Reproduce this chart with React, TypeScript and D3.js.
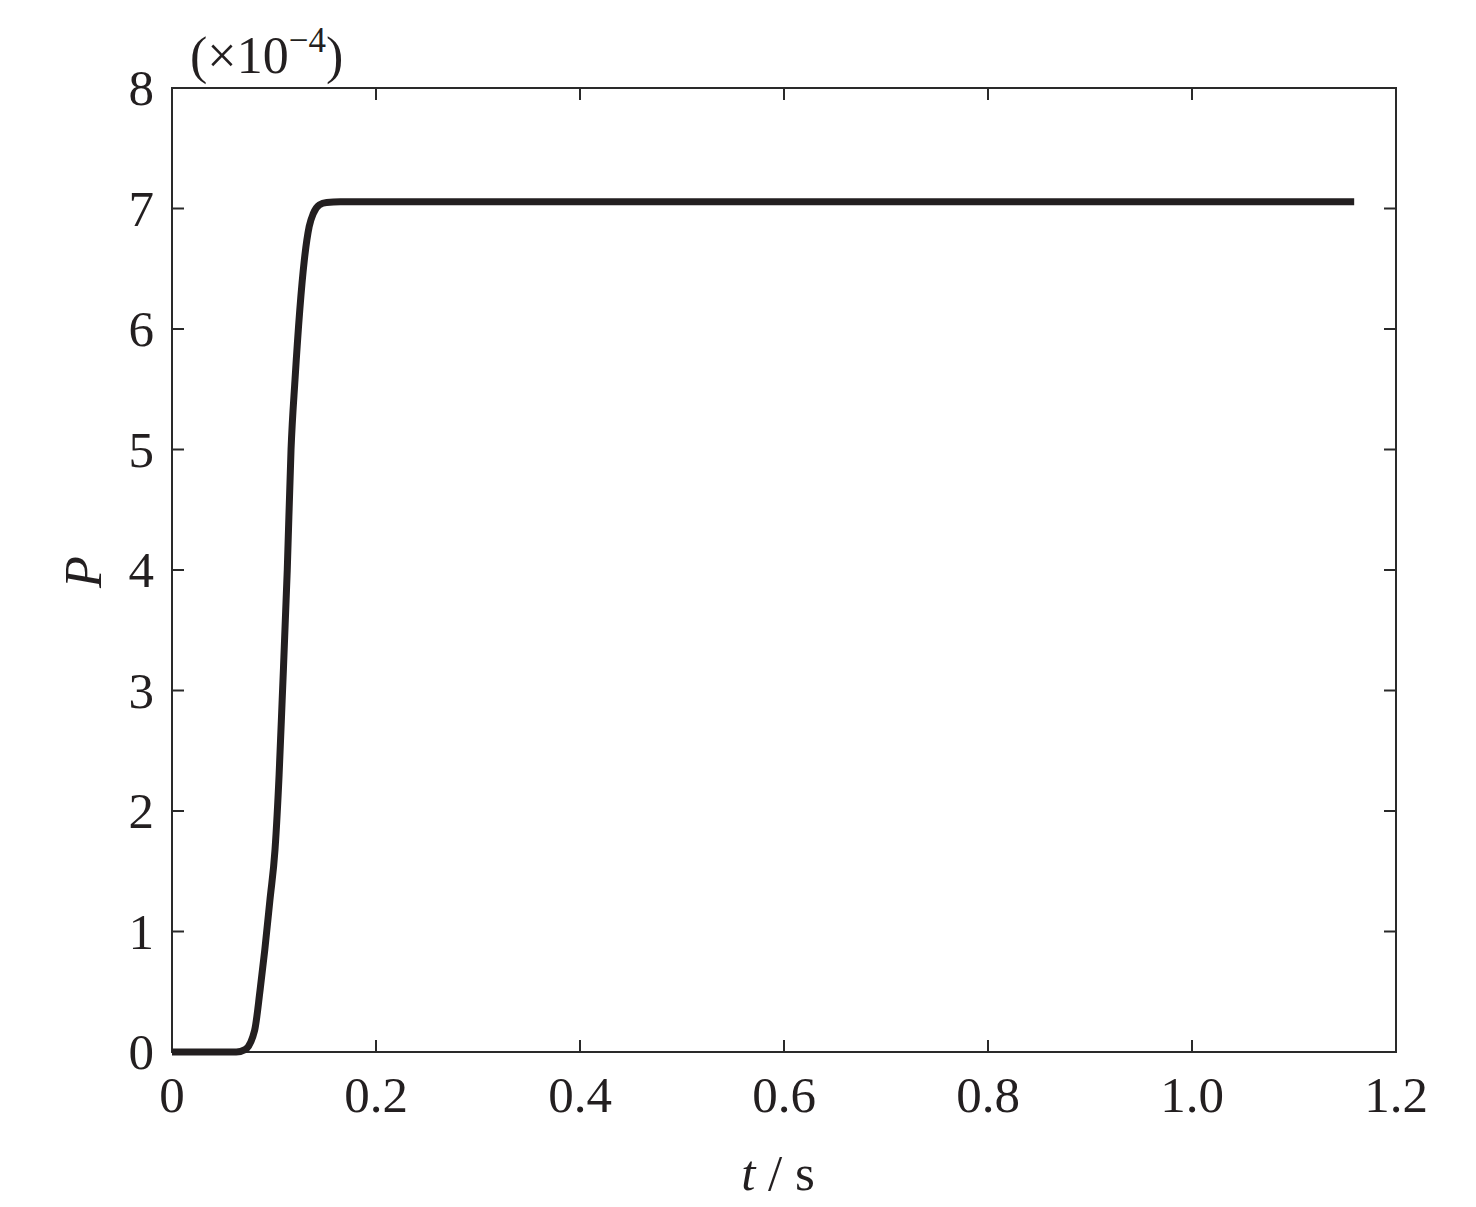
import React from "react";
import * as d3 from "d3";

const tValues = [0, 0.02, 0.04, 0.063, 0.0716, 0.081, 0.0863, 0.091, 0.096, 0.101, 0.105, 0.108, 0.113, 0.1167, 0.1206, 0.1297, 0.1345, 0.1386, 0.1445, 0.1516, 0.165, 0.2, 0.4, 0.6, 0.8, 1.0, 1.159];
const pValues = [0, 0, 0, 0, 0.02, 0.18, 0.51, 0.85, 1.26, 1.68, 2.3, 2.92, 4.0, 5.0, 5.58, 6.57, 6.85, 6.96, 7.03, 7.05, 7.055, 7.055, 7.055, 7.055, 7.055, 7.055, 7.055];
const xTicks = [0, 0.2, 0.4, 0.6, 0.8, 1.0, 1.2];
const xTickLabels = ["0", "0.2", "0.4", "0.6", "0.8", "1.0", "1.2"];
const yTicks = [0, 1, 2, 3, 4, 5, 6, 7, 8];

const W = 1476, H = 1207;
const L = 172, R = 1396, T = 88, B = 1052;

export default function App() {
  const x = d3.scaleLinear().domain([0, 1.2]).range([L, R]);
  const y = d3.scaleLinear().domain([0, 8]).range([B, T]);
  const pts = tValues.map((t, i) => [t, pValues[i]] as [number, number]);
  const line = d3.line<[number, number]>().x(d => x(d[0])).y(d => y(d[1])).curve(d3.curveMonotoneX);
  const font = "Liberation Serif";
  const axisColor = "#2a2a2a";
  const tickLen = 12;
  return (
    <svg width={W} height={H} style={{ position: "absolute", left: 0, top: 0, background: "#fff", fontFamily: font }}>
      <rect x={0} y={0} width={W} height={H} fill="#fff" />
      <rect x={L} y={T} width={R - L} height={B - T} fill="none" stroke={axisColor} strokeWidth={2} />
      {xTicks.map((t, i) => (
        <g key={"x" + i}>
          <line x1={x(t)} x2={x(t)} y1={B} y2={B - tickLen} stroke={axisColor} strokeWidth={2} />
          <line x1={x(t)} x2={x(t)} y1={T} y2={T + tickLen} stroke={axisColor} strokeWidth={2} />
          <text x={x(t)} y={B + 60} textAnchor="middle" fontSize={51} fill="#231f20">{xTickLabels[i]}</text>
        </g>
      ))}
      {yTicks.map((v, i) => (
        <g key={"y" + i}>
          <line x1={L} x2={L + tickLen} y1={y(v)} y2={y(v)} stroke={axisColor} strokeWidth={2} />
          <line x1={R} x2={R - tickLen} y1={y(v)} y2={y(v)} stroke={axisColor} strokeWidth={2} />
          <text x={L - 18} y={y(v)} dy="0.34em" textAnchor="end" fontSize={51} fill="#231f20">{v}</text>
        </g>
      ))}
      <path d={line(pts) || ""} fill="none" stroke="#231f20" strokeWidth={7} strokeLinejoin="round" strokeLinecap="butt" />
      <text x={190} y={73} fontSize={52} fill="#231f20">
        (×10<tspan dy={-21} fontSize={35}>−4</tspan><tspan dy={21}>)</tspan>
      </text>
      <text transform={`translate(101, 572) rotate(-90)`} textAnchor="middle" fontSize={52} fontStyle="italic" fill="#231f20">P</text>
      <text x={778} y={1190} textAnchor="middle" fontSize={51} fill="#231f20">
        <tspan fontStyle="italic">t</tspan> / s
      </text>
    </svg>
  );
}
